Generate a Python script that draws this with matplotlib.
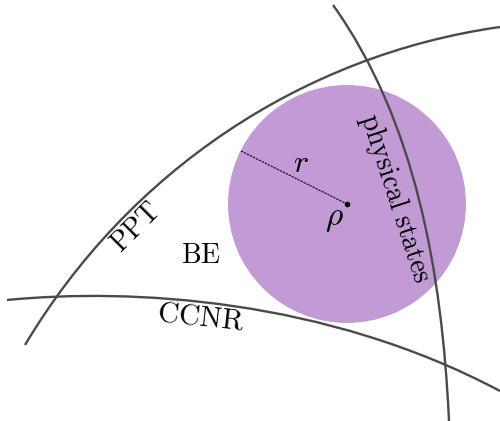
import matplotlib
matplotlib.use("Agg")
import matplotlib.pyplot as plt
from matplotlib.path import Path
from matplotlib.patches import PathPatch, Circle

plt.rcParams['mathtext.fontset'] = 'cm'

# boundary curves, cubic Bezier control points in image pixels (x right, y down)
ppt_curve = [(25, 345), (128, 172), (302, 55), (500, 27)]
ccnr_curve = [(7, 300), (130, 288), (325, 298), (500, 391)]
phys_curve = [(333, 5), (415, 120), (442, 271), (449, 421)]

# the ball of states around rho
ball_center = (347, 204)
ball_radius = 119
radius_end = (241, 151)

# labels: (text, x, y, rotation, size)
labels = [
    (r'$\mathrm{PPT}$', 136, 227, 45, 20),
    (r'$\mathrm{BE}$', 201, 255, 0, 20),
    (r'$\mathrm{CCNR}$', 201, 317, -6, 21),
    (r'$\mathrm{physical\ states}$', 395, 198, -72, 20),
    (r'$r$', 301, 163, 0, 23),
    (r'$\rho$', 334, 218, 0, 24),
]

line_color = '#4a4a4a'
ball_color = '#c29bd5'


def bezier(points):
    codes = [Path.MOVETO, Path.CURVE4, Path.CURVE4, Path.CURVE4]
    return PathPatch(Path(points, codes), facecolor='none', edgecolor=line_color,
                     linewidth=1.7, zorder=3, capstyle='butt')


fig = plt.figure(figsize=(5, 4.21), dpi=100)
ax = fig.add_axes([0, 0, 1, 1])
ax.set_xlim(0, 500)
ax.set_ylim(421, 0)
ax.axis('off')

ax.add_patch(Circle(ball_center, ball_radius, facecolor=ball_color, edgecolor='none', zorder=1))

for curve in [ppt_curve, ccnr_curve, phys_curve]:
    ax.add_patch(bezier(curve))

ax.plot([radius_end[0], ball_center[0]], [radius_end[1], ball_center[1]],
        color='black', linewidth=0.8, linestyle=(0, (2, 1)), zorder=4)
ax.plot(ball_center[0], ball_center[1], 'o', color='black', markersize=3, zorder=5)

for text, x, y, rot, size in labels:
    ax.text(x, y, text, fontsize=size, rotation=rot, ha='center', va='center',
            rotation_mode='anchor', zorder=6)

fig.savefig('out.png', dpi=100)
